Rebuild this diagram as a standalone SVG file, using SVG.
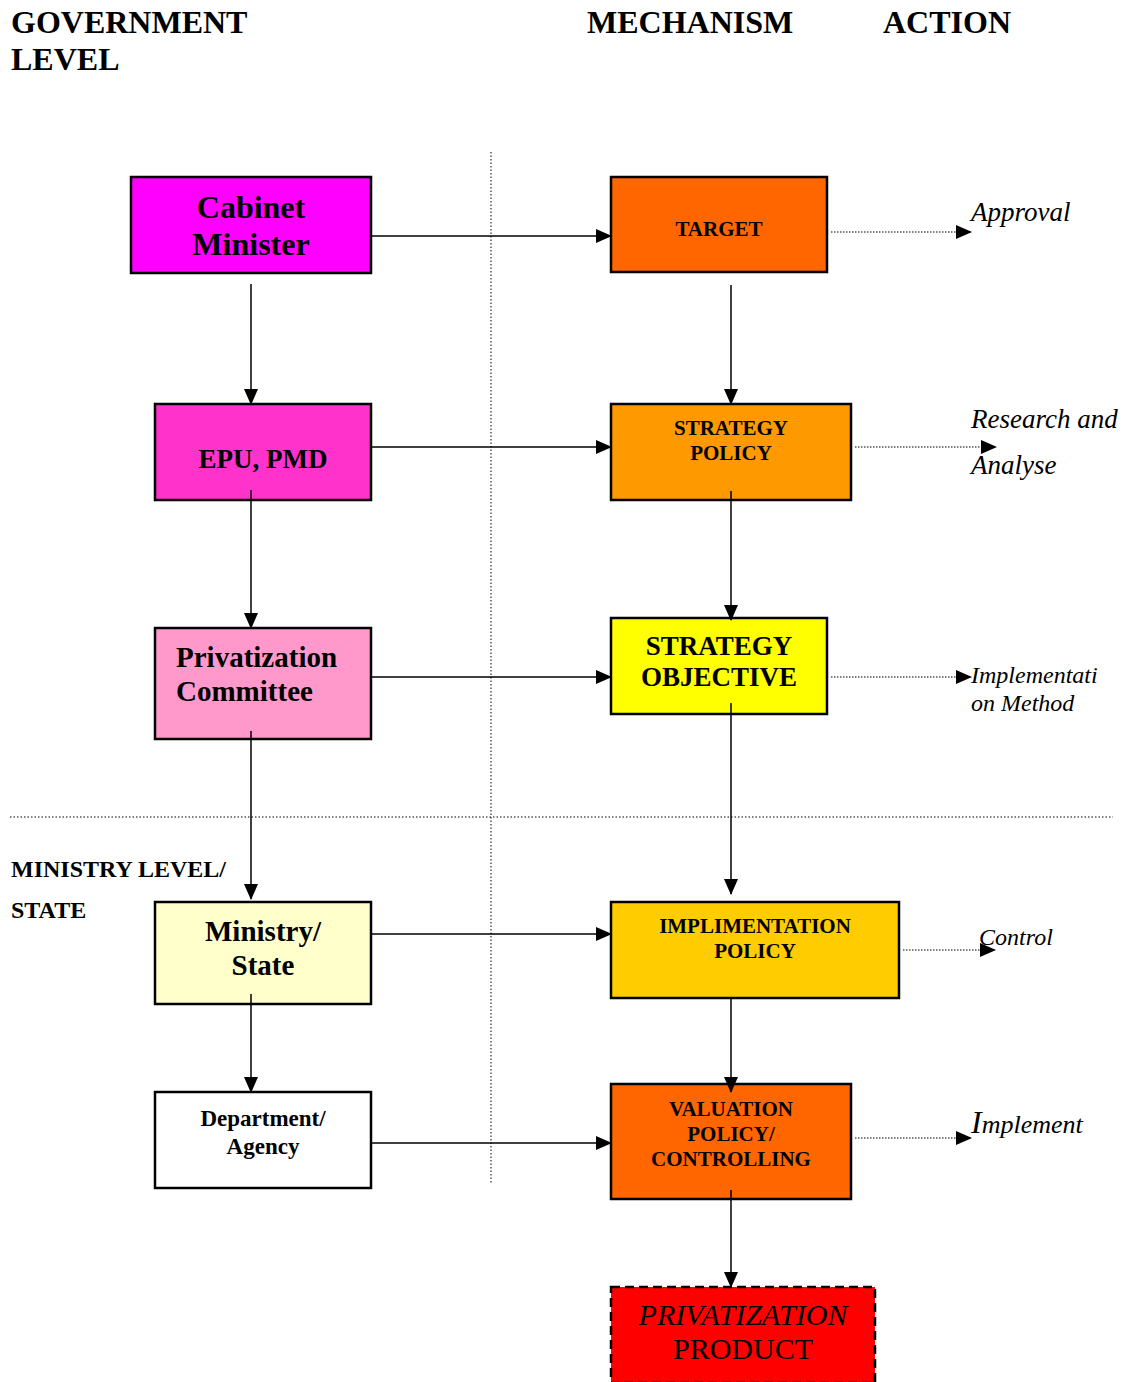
<svg xmlns="http://www.w3.org/2000/svg" width="1130" height="1382" viewBox="0 0 1130 1382">
  <style>
    text { font-family: "Liberation Serif", "Times New Roman", serif; fill: #000; }
    .hdr { font-size: 32px; font-weight: bold; }
    .sub { font-size: 24px; font-weight: bold; }
    .b { font-weight: bold; text-anchor: middle; }
    .act { font-style: italic; }
    .box { stroke: #000; stroke-width: 2.5; }
    .link { stroke: #000; stroke-width: 1.5; fill: none; marker-end: url(#arrow); }
    .dot { stroke: #000; stroke-width: 1.2; stroke-dasharray: 1.5 1.5; fill: none; marker-end: url(#arrow); }
    .guide { stroke: #000; stroke-width: 1; stroke-dasharray: 1.5 2; fill: none; }
  </style>
  <defs>
    <marker id="arrow" markerUnits="userSpaceOnUse" markerWidth="16" markerHeight="14" refX="15" refY="7" orient="auto">
      <path d="M0,0 L16,7 L0,14 Z" fill="#000"/>
    </marker>
  </defs>
  <rect width="1130" height="1382" fill="#fff"/>

  <!-- column headings -->
  <text class="hdr" x="11" y="33">GOVERNMENT</text>
  <text class="hdr" x="11" y="70">LEVEL</text>
  <text class="hdr" x="587" y="33">MECHANISM</text>
  <text class="hdr" x="883" y="33">ACTION</text>
  <text class="sub" x="11" y="877">MINISTRY LEVEL/</text>
  <text class="sub" x="11" y="918">STATE</text>

  <!-- divider guides -->
  <line class="guide" x1="491" y1="152" x2="491" y2="1183"/>
  <line class="guide" x1="10" y1="817" x2="1113" y2="817"/>

  <!-- government level -->
  <g id="cabinet-minister">
    <rect class="box" x="131" y="177" width="240" height="96" fill="#FF00FF"/>
    <text class="b" x="251" y="218" font-size="32">Cabinet</text>
    <text class="b" x="251" y="255" font-size="32">Minister</text>
  </g>
  <g id="epu-pmd">
    <rect class="box" x="155" y="404" width="216" height="96" fill="#FF33CC"/>
    <text class="b" x="263" y="468" font-size="27">EPU, PMD</text>
  </g>
  <g id="privatization-committee">
    <rect class="box" x="155" y="628" width="216" height="111" fill="#FF99CC"/>
    <text x="176" y="667" font-size="29" font-weight="bold">Privatization</text>
    <text x="176" y="701" font-size="29" font-weight="bold">Committee</text>
  </g>
  <g id="ministry-state">
    <rect class="box" x="155" y="902" width="216" height="102" fill="#FFFFCC"/>
    <text class="b" x="263" y="941" font-size="29">Ministry/</text>
    <text class="b" x="263" y="975" font-size="29">State</text>
  </g>
  <g id="department-agency">
    <rect class="box" x="155" y="1092" width="216" height="96" fill="#FFFFFF"/>
    <text class="b" x="263" y="1126" font-size="23">Department/</text>
    <text class="b" x="263" y="1154" font-size="23">Agency</text>
  </g>

  <!-- mechanism -->
  <g id="target">
    <rect class="box" x="611" y="177" width="216" height="95" fill="#FF6600"/>
    <text class="b" x="719" y="236" font-size="21">TARGET</text>
  </g>
  <g id="strategy-policy">
    <rect class="box" x="611" y="404" width="240" height="96" fill="#FF9900"/>
    <text class="b" x="731" y="435" font-size="21">STRATEGY</text>
    <text class="b" x="731" y="460" font-size="21">POLICY</text>
  </g>
  <g id="strategy-objective">
    <rect class="box" x="611" y="618" width="216" height="96" fill="#FFFF00"/>
    <text class="b" x="719" y="655" font-size="27">STRATEGY</text>
    <text class="b" x="719" y="686" font-size="27">OBJECTIVE</text>
  </g>
  <g id="implimentation-policy">
    <rect class="box" x="611" y="902" width="288" height="96" fill="#FFCC00"/>
    <text class="b" x="755" y="933" font-size="21">IMPLIMENTATION</text>
    <text class="b" x="755" y="958" font-size="21">POLICY</text>
  </g>
  <g id="valuation-policy">
    <rect class="box" x="611" y="1084" width="240" height="115" fill="#FF6600"/>
    <text class="b" x="731" y="1116" font-size="21">VALUATION</text>
    <text class="b" x="731" y="1141" font-size="21">POLICY/</text>
    <text class="b" x="731" y="1166" font-size="21">CONTROLLING</text>
  </g>
  <g id="privatization-product">
    <rect x="611" y="1287" width="264" height="96" fill="#FF0000" stroke="#000" stroke-width="2.5" stroke-dasharray="9 5"/>
    <text x="743" y="1325" font-size="30" font-style="italic" text-anchor="middle">PRIVATIZATION</text>
    <text x="743" y="1359" font-size="30" text-anchor="middle">PRODUCT</text>
  </g>

  <!-- actions -->
  <g id="actions">
    <text class="act" x="971" y="221" font-size="27">Approval</text>
    <text class="act" x="971" y="428" font-size="27">Research and</text>
    <text class="act" x="971" y="474" font-size="27">Analyse</text>
    <text class="act" x="971" y="683" font-size="24">Implementati</text>
    <text class="act" x="971" y="711" font-size="24">on Method</text>
    <text class="act" x="979" y="945" font-size="24">Control</text>
    <text class="act" x="971" y="1133" font-size="26"><tspan font-size="32">I</tspan>mplement</text>
  </g>

  <!-- connectors -->
  <g id="connectors">
    <line class="link" x1="371" y1="236" x2="611" y2="236"/>
    <line class="link" x1="371" y1="447" x2="611" y2="447"/>
    <line class="link" x1="371" y1="677" x2="611" y2="677"/>
    <line class="link" x1="371" y1="934" x2="611" y2="934"/>
    <line class="link" x1="371" y1="1143" x2="611" y2="1143"/>

    <line class="link" x1="251" y1="284" x2="251" y2="404"/>
    <line class="link" x1="251" y1="490" x2="251" y2="628"/>
    <line class="link" x1="251" y1="731" x2="251" y2="899"/>
    <line class="link" x1="251" y1="994" x2="251" y2="1092"/>

    <line class="link" x1="731" y1="285" x2="731" y2="404"/>
    <line class="link" x1="731" y1="491" x2="731" y2="620"/>
    <line class="link" x1="731" y1="703" x2="731" y2="894"/>
    <line class="link" x1="731" y1="998" x2="731" y2="1092"/>
    <line class="link" x1="731" y1="1190" x2="731" y2="1287"/>

    <line class="dot" x1="831" y1="232" x2="971" y2="232"/>
    <line class="dot" x1="855" y1="447" x2="996" y2="447"/>
    <line class="dot" x1="831" y1="677" x2="971" y2="677"/>
    <line class="dot" x1="903" y1="950" x2="995" y2="950"/>
    <line class="dot" x1="855" y1="1138" x2="971" y2="1138"/>
  </g>
</svg>
